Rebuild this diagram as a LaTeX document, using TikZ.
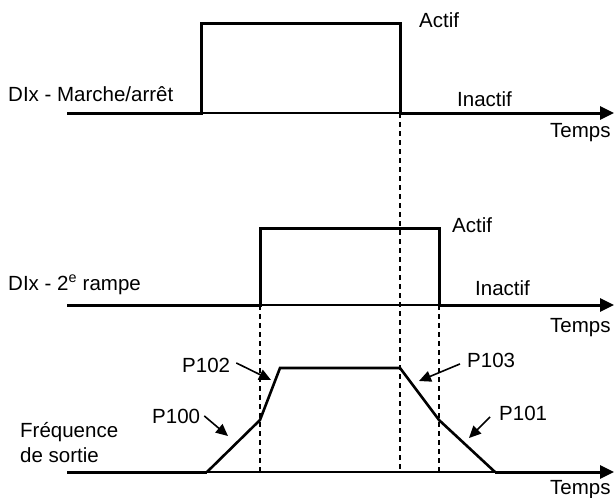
\documentclass[tikz,border=0pt]{standalone}
\usepackage{fontspec}
\setmainfont{Liberation Sans}
\usetikzlibrary{calc,positioning,arrows.meta}
\tikzset{
  lbl/.style={inner sep=0pt,anchor=base west,font=\fontsize{20.5}{24}\selectfont},
  sig/.style={line width=3pt,line join=miter},
  base/.style={line width=1.2pt},
  axis/.style={line width=3pt,-{Triangle[length=14pt,width=13pt]}},
  ramp/.style={line width=2.6pt,line join=miter},
  guide/.style={line width=1.2pt,dash pattern=on 5pt off 4pt},
  ann/.style={line width=1.6pt,-{Triangle[length=12pt,width=11pt]}},
}
\begin{document}
\begin{tikzpicture}[x=1pt,y=-1pt]
\useasboundingbox (0,0) rectangle (614,498);
% signal 1 : marche/arret
\coordinate (s1a) at (67,113);
\coordinate (s1b) at (201,113);
\coordinate (s1c) at (201,23);
\coordinate (s1d) at (400,23);
\coordinate (s1e) at (400,113);
\coordinate (s1f) at (614,113);
% signal 2 : 2e rampe
\coordinate (s2a) at (67,305);
\coordinate (s2b) at (260,305);
\coordinate (s2c) at (260,228);
\coordinate (s2d) at (439,228);
\coordinate (s2e) at (439,305);
\coordinate (s2f) at (614,305);
% frequence de sortie
\coordinate (f0) at (67,472);
\coordinate (f1) at (207,472);
\coordinate (f2) at (260,420);
\coordinate (f3) at (280,368);
\coordinate (f4) at (400,368);
\coordinate (f5) at (439,420);
\coordinate (f6) at (495,472);
\coordinate (f7) at (614,472);
\coordinate (g1) at (400,472);
\coordinate (g2) at (260,472);
\coordinate (g3) at (439,472);
% arrow tips
\coordinate (t100) at (228,436);
\coordinate (t102) at (271,380);
\coordinate (t103) at (419,381);
\coordinate (t101) at (469,438);

\node[lbl] (mar)  at (8,101)   {DIx - Marche/arrêt};
\node[lbl] (act1) at (419,27)  {Actif};
\node[lbl] (ina1) at (457,106) {Inactif};
\node[lbl] (tps1) at (550,137) {Temps};
\node[lbl] (ram)  at (8,290)   {DIx - 2\textsuperscript{e} rampe};
\node[lbl] (act2) at (452,232) {Actif};
\node[lbl] (ina2) at (475,295) {Inactif};
\node[lbl] (tps2) at (550,332) {Temps};
\node[lbl] (frq1) at (20,437)  {Fréquence};
\node[lbl] (frq2) at (20,462)  {de sortie};
\node[lbl] (tps3) at (550,494) {Temps};
\node[lbl] (p102) at (182,372) {P102};
\node[lbl] (p100) at (152,423) {P100};
\node[lbl] (p103) at (467,367) {P103};
\node[lbl] (p101) at (499,420) {P101};

\draw[guide] (s1e) -- (g1);
\draw[guide] (s2b) -- (g2);
\draw[guide] (s2e) -- (g3);

\draw[base] (s1b) -- (s1e);
\draw[sig] (s1a) -- (s1b) -- (s1c) -- (s1d) -- (s1e);
\draw[axis] (s1e) -- (s1f);

\draw[base] (s2b) -- (s2e);
\draw[sig] (s2a) -- (s2b) -- (s2c) -- (s2d) -- (s2e);
\draw[axis] (s2e) -- (s2f);

\draw[base] (f1) -- (f6);
\draw[sig] (f0) -- (f1);
\draw[ramp] (f1) -- (f2) -- (f3) -- (f4) -- (f5) -- (f6);
\draw[axis] (f6) -- (f7);

\draw[ann] ($(p102.east)+(6,-2)$) -- (t102);
\draw[ann] ($(p100.east)+(4,0)$) -- (t100);
\draw[ann] ($(p103.west)+(-7,4)$) -- (t103);
\draw[ann] ($(p101.west)+(-9,4)$) -- (t101);
\end{tikzpicture}
\end{document}
